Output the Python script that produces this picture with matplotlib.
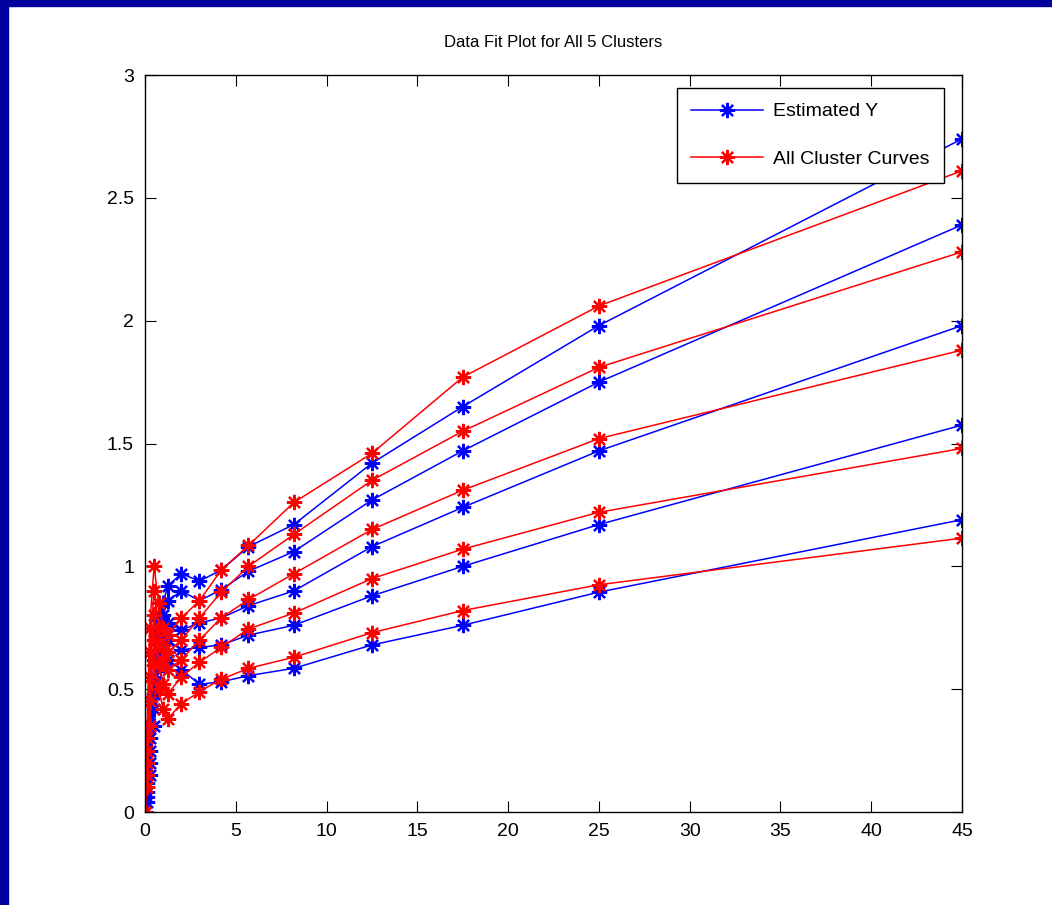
import matplotlib
matplotlib.use("Agg")
import matplotlib.pyplot as plt
from matplotlib.patches import Rectangle

plt.rcParams["font.family"] = ["Liberation Sans Narrow", "Liberation Sans", "DejaVu Sans"]

# sampling times shared by every curve
x = [0, 0.1, 0.25, 0.5, 0.75, 1.0, 1.25, 2, 3, 4.2, 5.7, 8.2, 12.5, 17.5, 25, 45]

# estimated Y, one list per cluster (top to bottom at x=45)
est_1 = [0, 0.12, 0.35, 0.62, 0.78, 0.85, 0.92, 0.97, 0.94, 0.985, 1.08, 1.17, 1.42, 1.65, 1.98, 2.74]
est_2 = [0, 0.10, 0.30, 0.55, 0.72, 0.80, 0.86, 0.90, 0.86, 0.905, 0.98, 1.06, 1.27, 1.47, 1.75, 2.39]
est_3 = [0, 0.08, 0.25, 0.48, 0.66, 0.74, 0.77, 0.74, 0.77, 0.79, 0.84, 0.90, 1.08, 1.24, 1.47, 1.98]
est_4 = [0, 0.06, 0.20, 0.42, 0.60, 0.68, 0.70, 0.66, 0.67, 0.68, 0.72, 0.76, 0.88, 1.00, 1.17, 1.575]
est_5 = [0, 0.04, 0.15, 0.35, 0.52, 0.60, 0.62, 0.58, 0.52, 0.53, 0.555, 0.585, 0.68, 0.76, 0.895, 1.19]

# cluster curves
clu_1 = [0, 0.30, 0.75, 1.00, 0.85, 0.75, 0.72, 0.79, 0.86, 0.985, 1.085, 1.26, 1.46, 1.77, 2.06, 2.61]
clu_2 = [0, 0.25, 0.65, 0.90, 0.75, 0.68, 0.65, 0.70, 0.79, 0.895, 1.00, 1.13, 1.35, 1.55, 1.81, 2.28]
clu_3 = [0, 0.20, 0.55, 0.80, 0.68, 0.62, 0.58, 0.62, 0.70, 0.79, 0.865, 0.97, 1.15, 1.31, 1.52, 1.88]
clu_4 = [0, 0.15, 0.45, 0.70, 0.60, 0.52, 0.48, 0.55, 0.61, 0.67, 0.745, 0.81, 0.95, 1.07, 1.22, 1.48]
clu_5 = [0, 0.10, 0.35, 0.60, 0.50, 0.42, 0.38, 0.44, 0.49, 0.54, 0.585, 0.63, 0.73, 0.82, 0.925, 1.115]

BLUE = "#0000ff"
RED = "#ff0000"
STAR = (8, 2, 0)  # MATLAB-style '*' asterisk

fig = plt.figure(figsize=(10.52, 9.05), dpi=100)
# dark blue slide frame on the top and left edges
fig.patches.append(Rectangle((0, 0), 8 / 1052, 1, transform=fig.transFigure,
                             color="#00009c", zorder=0))
fig.patches.append(Rectangle((0, 1 - 6 / 905), 1, 6 / 905, transform=fig.transFigure,
                             color="#00009c", zorder=0))

ax = fig.add_axes([145 / 1052, 1 - 812 / 905, 817 / 1052, 737 / 905])
for i, ys in enumerate([est_1, est_2, est_3, est_4, est_5]):
    ax.plot(x, ys, color=BLUE, marker=STAR, ms=11, mew=1.6, lw=1.1,
            label="Estimated Y" if i == 0 else None)
for i, ys in enumerate([clu_1, clu_2, clu_3, clu_4, clu_5]):
    ax.plot(x, ys, color=RED, marker=STAR, ms=11, mew=1.6, lw=1.1,
            label="All Cluster Curves" if i == 0 else None)

ax.set_xlim(0, 45)
ax.set_ylim(0, 3)
ax.set_xticks(range(0, 46, 5))
ax.set_yticks([0, 0.5, 1, 1.5, 2, 2.5, 3])
ax.set_yticklabels(["0", "0.5", "1", "1.5", "2", "2.5", "3"])
ax.tick_params(direction="in", top=True, right=True, labelsize=14, length=8, pad=8)
for s in ax.spines.values():
    s.set_linewidth(1.0)
ax.set_title("Data Fit Plot for All 5 Clusters", fontsize=12, pad=20)

leg = ax.legend(loc="upper right", bbox_to_anchor=(0.978, 0.982), borderaxespad=0,
                fontsize=14, handlelength=3.7, handletextpad=0.5, fancybox=False,
                framealpha=1, edgecolor="black", borderpad=0.75, labelspacing=1.55)
leg.get_frame().set_linewidth(1.0)

fig.savefig("out.png", dpi=100)
